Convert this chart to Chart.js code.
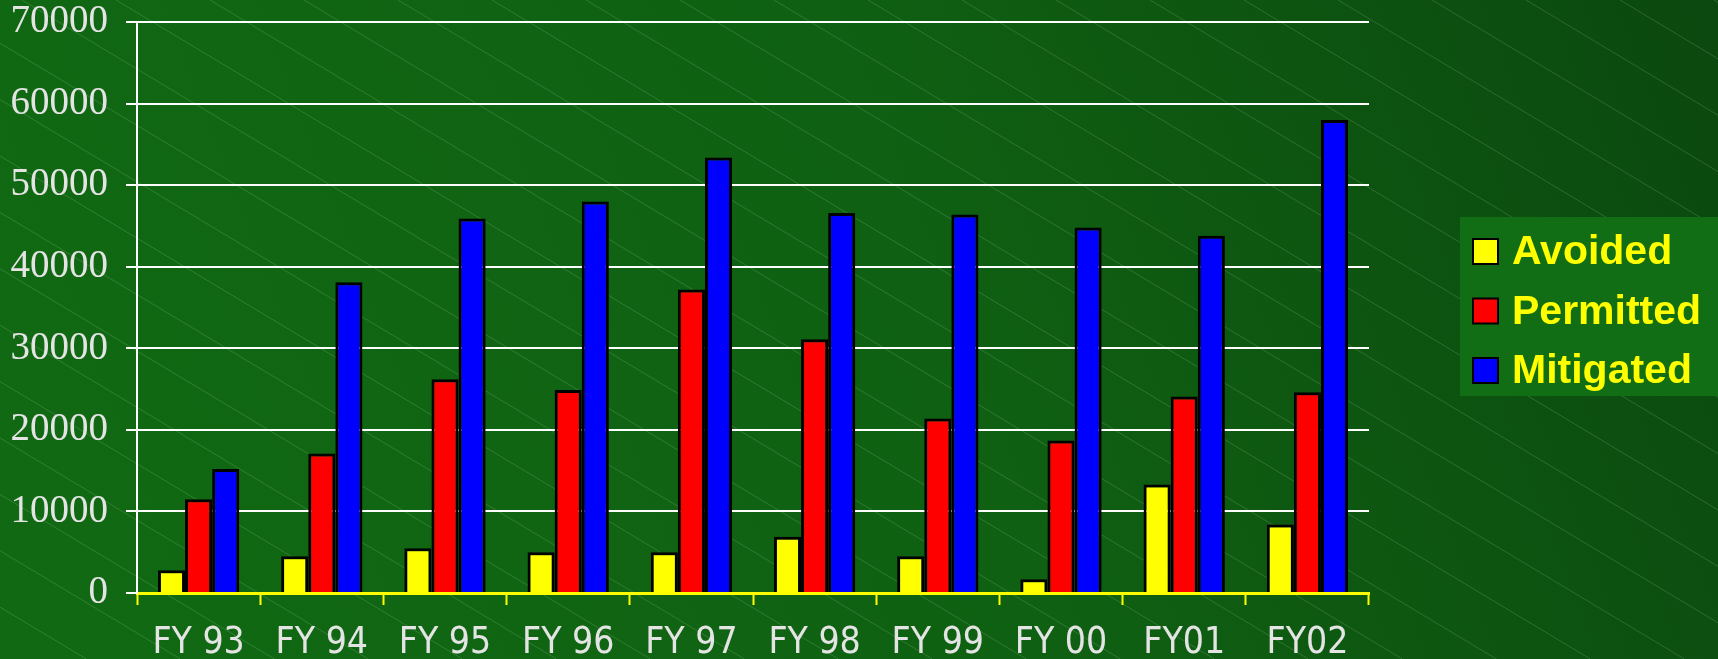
<!DOCTYPE html>
<html>
<head>
<meta charset="utf-8">
<script src="https://cdn.jsdelivr.net/npm/chart.js@4.4.1/dist/chart.umd.min.js"></script>
<style>
  html, body { margin: 0; padding: 0; background: #0e5a12; }
  #wrap { position: relative; width: 1718px; height: 659px; }
</style>
</head>
<body>
<div id="wrap"><canvas id="grafico"></canvas></div>
<script>
// datos
const años = ['FY 93', 'FY 94', 'FY 95', 'FY 96', 'FY 97', 'FY 98', 'FY 99', 'FY 00', 'FY01', 'FY02'];
const avoided = [2800, 4500, 5500, 5000, 5000, 6900, 4500, 1700, 13300, 8400];
const permitted = [11500, 17100, 26200, 24900, 37200, 31100, 21400, 18700, 24100, 24600];
const mitigated = [15200, 38100, 45900, 48000, 53400, 46600, 46400, 44800, 43800, 58000];
const nombres = ['Avoided', 'Permitted', 'Mitigated'];
const colores = ['#ffff00', '#ff0000', '#0000ff'];
const Y_MAX = 70000;
const Y_PASO = 10000;

// fondo verde con rayas diagonales
const fondo = {
    id: 'fondo',
    beforeDraw(chart) {
        const ctx = chart.ctx;
        const w = chart.width, h = chart.height;
        ctx.save();
        let grad = ctx.createLinearGradient(0, h, w, 0);
        grad.addColorStop(0, 'rgb(17,106,19)');
        grad.addColorStop(0.55, 'rgb(15,96,18)');
        grad.addColorStop(1, 'rgb(11,72,15)');
        ctx.fillStyle = grad;
        ctx.fillRect(0, 0, w, h);
        ctx.strokeStyle = 'rgba(200,235,200,0.18)';
        ctx.lineWidth = 1;
        const pendiente = 0.6;
        for (let x0 = -1200; x0 < w + 100; x0 += 94) {
            ctx.beginPath();
            ctx.moveTo(x0, 0);
            ctx.lineTo(x0 + h / pendiente, h);
            ctx.stroke();
        }
        ctx.restore();
    }
};

// leyenda dibujada a mano en la caja verde de la derecha
const leyenda = {
    id: 'leyenda',
    afterDraw(chart) {
        const ctx = chart.ctx;
        ctx.save();
        ctx.fillStyle = 'rgb(18,110,20)';
        ctx.fillRect(1460, 217, 258, 179);
        ctx.font = 'bold 41px "Liberation Sans", Arial, sans-serif';
        ctx.textBaseline = 'middle';
        chart.data.datasets.forEach((ds, i) => {
            const yc = 251 + i * 59.5;
            ctx.fillStyle = ds.backgroundColor;
            ctx.fillRect(1473, yc - 12, 25, 25);
            ctx.strokeStyle = '#000';
            ctx.lineWidth = 2;
            ctx.strokeRect(1473, yc - 12, 25, 25);
            ctx.fillStyle = '#ffff00';
            ctx.fillText(ds.label, 1512, yc + 2);
        });
        ctx.restore();
    }
};

function dibujarGrafico() {
    const ctx = document.getElementById('grafico').getContext('2d');
    const series = [avoided, permitted, mitigated];
    const chart = new Chart(ctx, {
        type: 'bar',
        data: {
            labels: años,
            datasets: series.map((datos, i) => ({
                label: nombres[i],
                data: datos,
                backgroundColor: colores[i],
                borderColor: '#000000',
                borderWidth: 3,
                categoryPercentage: 0.66,
                barPercentage: 1.0
            }))
        },
        options: {
            responsive: true,
            maintainAspectRatio: false,
            animation: false,
            layout: { padding: { top: 22, right: 349, left: 0, bottom: 0 } },
            plugins: {
                legend: { display: false },
                tooltip: { enabled: false }
            },
            scales: {
                x: {
                    afterFit: s => { s.height = 66; },
                    border: { color: '#ffff00', width: 3 },
                    grid: {
                        offset: true,
                        drawOnChartArea: false,
                        drawTicks: true,
                        tickLength: 12,
                        tickColor: '#ffff00',
                        tickWidth: 2
                    },
                    ticks: {
                        color: '#e4e4e4',
                        padding: 16,
                        font: { family: '"DejaVu Sans Condensed", "Liberation Sans", Arial, sans-serif', size: 37 }
                    }
                },
                y: {
                    min: 0,
                    max: Y_MAX,
                    afterFit: s => { s.width = 137; s.paddingTop = 0; s.paddingBottom = 0; },
                    border: { color: '#ffffff', width: 2 },
                    grid: {
                        color: '#ffffff',
                        lineWidth: 2,
                        tickLength: 11,
                        tickColor: '#ffffff'
                    },
                    ticks: {
                        stepSize: Y_PASO,
                        color: '#e4e4e4',
                        padding: 18,
                        font: { family: '"Liberation Serif", "Times New Roman", serif', size: 39 },
                        callback: v => String(v)
                    }
                }
            }
        },
        plugins: [fondo, leyenda]
    });
}

dibujarGrafico();
</script>
</body>
</html>
